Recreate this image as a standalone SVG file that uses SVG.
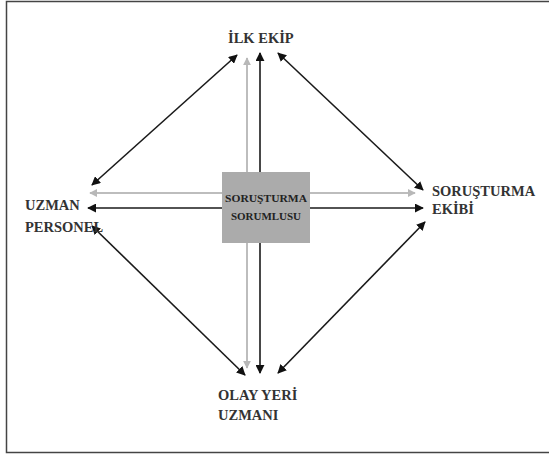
<svg xmlns="http://www.w3.org/2000/svg" width="549" height="454" viewBox="0 0 549 454">
<defs>
<marker id="ah" viewBox="0 0 10 10" refX="9" refY="5" markerWidth="9" markerHeight="9" markerUnits="userSpaceOnUse" orient="auto-start-reverse"><path d="M0,0 L10,5 L0,10 z" fill="#111"/></marker>
<marker id="ahg" viewBox="0 0 10 10" refX="9" refY="5" markerWidth="8" markerHeight="8" markerUnits="userSpaceOnUse" orient="auto-start-reverse"><path d="M0,0 L10,5 L0,10 z" fill="#b8b8b8"/></marker>
<style>
.lbl{font-size:14.5px;fill:#333}
.ctr{font-size:11px;fill:#222}
.dk{stroke:#1a1a1a;stroke-width:1.6;fill:none;marker-start:url(#ah);marker-end:url(#ah)}
.gy{stroke:#bdbdbd;stroke-width:2;fill:none;marker-start:url(#ahg);marker-end:url(#ahg)}
</style>
</defs>
<rect x="0" y="0" width="549" height="454" fill="#fff"/>
<rect x="6.5" y="1.5" width="560" height="451" fill="none" stroke="#444" stroke-width="1.5"/>
<g id="connectors">
<line class="gy" x1="247" y1="58" x2="247" y2="368"/>
<line class="dk" x1="260" y1="53" x2="260" y2="373"/>
<line class="gy" x1="90" y1="193" x2="415" y2="193"/>
<line class="dk" x1="88" y1="208" x2="423" y2="208"/>
<line class="dk" x1="92" y1="185" x2="237" y2="55"/>
<line class="dk" x1="278" y1="53" x2="423" y2="190"/>
<line class="dk" x1="92" y1="226" x2="245" y2="375"/>
<line class="dk" x1="425" y1="222" x2="278" y2="373"/>
</g>
<g font-family="'Liberation Serif', 'Times New Roman', serif" font-weight="bold">
<g id="center">
<rect x="222" y="172" width="88" height="71" fill="#ababab"/>
<text class="ctr" x="266" y="202" text-anchor="middle" textLength="82" lengthAdjust="spacingAndGlyphs">SORUŞTURMA</text>
<text class="ctr" x="266" y="220" text-anchor="middle" textLength="70" lengthAdjust="spacingAndGlyphs">SORUMLUSU</text>
</g>
<g id="ilk-ekip"><text class="lbl" x="228" y="43">İLK EKİP</text></g>
<g id="uzman-personel"><text class="lbl" x="25" y="210">UZMAN</text><text class="lbl" x="25" y="232">PERSONEL</text></g>
<g id="sorusturma-ekibi"><text class="lbl" x="432" y="196">SORUŞTURMA</text><text class="lbl" x="432" y="214">EKİBİ</text></g>
<g id="olay-yeri-uzmani"><text class="lbl" x="218" y="400">OLAY YERİ</text><text class="lbl" x="218" y="420">UZMANI</text></g>
</g>
</svg>
